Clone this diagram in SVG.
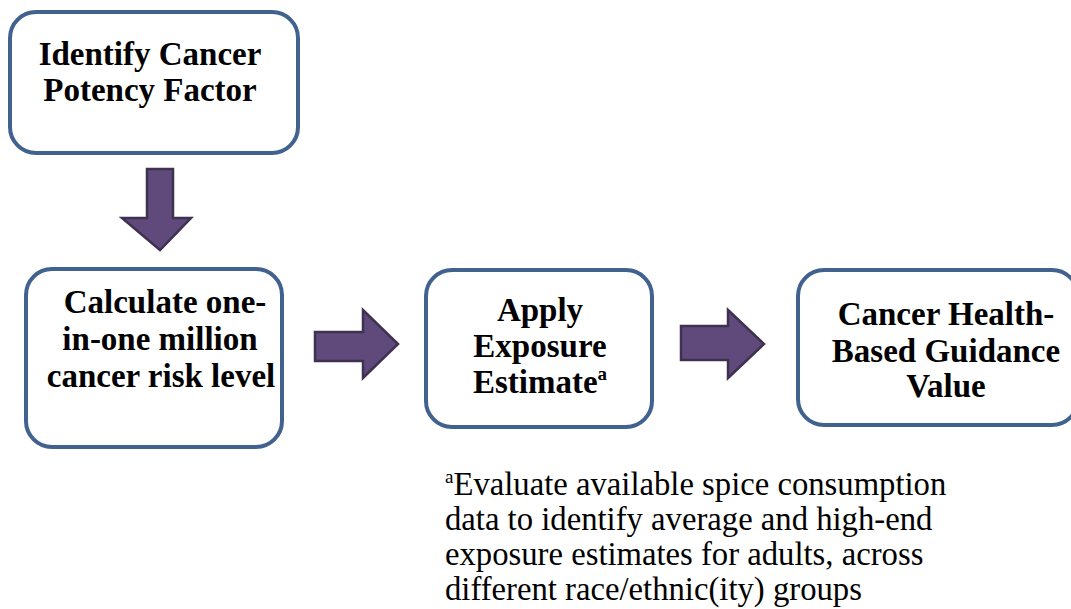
<svg xmlns="http://www.w3.org/2000/svg" width="1071" height="609" viewBox="0 0 1071 609">
<style>
.box{fill:#fff;stroke:#41618F;stroke-width:4}
.arr{fill:#604A7B;stroke:#3F3151;stroke-width:2.5;stroke-linejoin:miter}
.t{font-weight:bold;font-size:33px;fill:#000;text-anchor:middle}
.n{font-size:32.7px;fill:#000}
</style>
<rect width="1071" height="609" fill="#fff"/>
<g id="connectors">
<path class="arr" d="M147,169 H173 V218 H191 L160,250 L122,218 H147 Z"/>
<path class="arr" d="M315,332 H363 V310 L398,344 L363,378 V361 H315 Z"/>
<path class="arr" d="M681,326 H728 V310 L764,344 L728,378 V360 H681 Z"/>
</g>
<g id="node1">
<rect class="box" x="10" y="12" width="288" height="141" rx="26"/>
<text class="t" font-family="Liberation Serif" x="150" y="65">Identify Cancer</text>
<text class="t" font-family="Liberation Serif" x="150" y="101">Potency Factor</text>
</g>
<g id="node2">
<rect class="box" x="26" y="269" width="256" height="178" rx="26"/>
<text class="t" font-family="Liberation Serif" x="165" y="313">Calculate one-</text>
<text class="t" font-family="Liberation Serif" x="160" y="350">in-one million</text>
<text class="t" font-family="Liberation Serif" x="161" y="387">cancer risk level</text>
</g>
<g id="node3">
<rect class="box" x="426" y="270" width="226" height="157" rx="26"/>
<text class="t" font-family="Liberation Serif" x="540" y="321">Apply</text>
<text class="t" font-family="Liberation Serif" x="540" y="357">Exposure</text>
<text class="t" font-family="Liberation Serif" x="540" y="393">Estimate<tspan font-size="19" dy="-13">a</tspan></text>
</g>
<g id="node4">
<rect class="box" x="798" y="270" width="280" height="155" rx="26"/>
<text class="t" font-family="Liberation Serif" x="946" y="325">Cancer Health-</text>
<text class="t" font-family="Liberation Serif" x="946" y="362">Based Guidance</text>
<text class="t" font-family="Liberation Serif" x="946" y="397">Value</text>
</g>
<g id="footnote">
<text class="n" font-family="Liberation Serif" x="445" y="495"><tspan font-size="19" dy="-12">a</tspan><tspan dy="12">Evaluate available spice consumption</tspan></text>
<text class="n" font-family="Liberation Serif" x="445" y="530">data to identify average and high-end</text>
<text class="n" font-family="Liberation Serif" x="445" y="565">exposure estimates for adults, across</text>
<text class="n" font-family="Liberation Serif" x="445" y="600">different race/ethnic(ity) groups</text>
</g>
</svg>
